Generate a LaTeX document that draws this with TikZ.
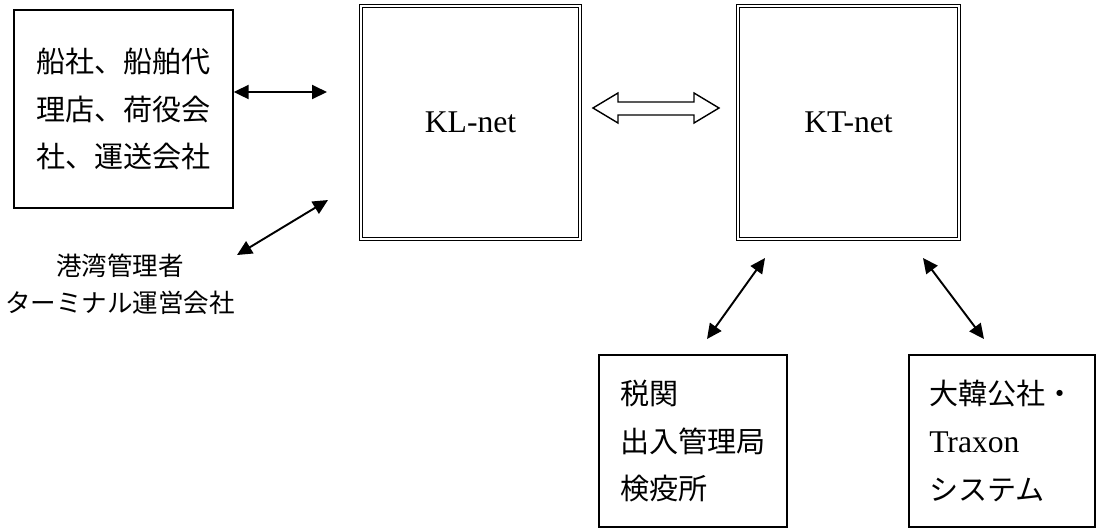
\documentclass[tikz,border=0pt]{standalone}
\usepackage{fontspec}
\setmainfont{Liberation Serif}
\newfontfamily\jp[Scale=0.92]{Noto Sans CJK JP}
\usetikzlibrary{arrows.meta}

\tikzset{
	box/.style={draw, line width=0.8pt, inner sep=0pt},
	netbox/.style={draw, double, line width=0.6pt, double distance=1.4pt, inner sep=0pt},
	jtext/.style={font=\jp\fontsize{18}{27.2}\selectfont, align=left},
	link/.style={line width=1.1pt, {Triangle[length=0.3cm, width=0.28cm]}-{Triangle[length=0.3cm, width=0.28cm]}}
}

\begin{document}
\begin{tikzpicture}[x=0.02cm, y=-0.02cm]
		\useasboundingbox (0,0) rectangle (1112,529);
		% users on the left
		\node[box, jtext, minimum width=4.38cm, minimum height=3.96cm] (ship) at (123.5,109) {船社、船舶代\\理店、荷役会\\社、運送会社};
		\node[font=\jp\fontsize{15.8}{21}\selectfont, align=center] (port) at (120,284) {港湾管理者\\ターミナル運営会社};
		% the two networks
		\node[netbox, minimum width=4.38cm, minimum height=4.66cm, font=\fontsize{18}{20}\selectfont] (kl) at (470.5,122.5) {KL-net};
		\node[netbox, minimum width=4.42cm, minimum height=4.66cm, font=\fontsize{18}{20}\selectfont] (kt) at (848.5,122.5) {KT-net};
		% systems below KT-net
		\node[box, jtext, minimum width=3.76cm, minimum height=3.44cm] (cust) at (693,441) {税関\\出入管理局\\検疫所};
		\node[box, jtext, minimum width=3.72cm, minimum height=3.44cm] (korea) at (1002,441) {大韓公社・\\{\rmfamily Traxon}\\システム};
		% arrow ends
		\coordinate (kl-w) at (327,92);
		\coordinate (kl-sw) at (328,200);
		\coordinate (port-ne) at (237,255);
		\coordinate (kt-s1) at (765,258);
		\coordinate (cust-n) at (707,339);
		\coordinate (kt-s2) at (923,258);
		\coordinate (korea-n) at (984,339);
		\draw[link] (ship.east |- kl-w) -- (kl-w);
		\draw[link] (port-ne) -- (kl-sw);
		\draw[link] (kt-s1) -- (cust-n);
		\draw[link] (kt-s2) -- (korea-n);
		% hollow double arrow between KL-net and KT-net
		\draw[line width=0.8pt, line join=miter] (593,108) -- (618,93) -- (618,102) -- (694,102) -- (694,93) -- (719,108)
			-- (694,123) -- (694,115) -- (618,115) -- (618,123) -- cycle;
	\end{tikzpicture}
\end{document}
